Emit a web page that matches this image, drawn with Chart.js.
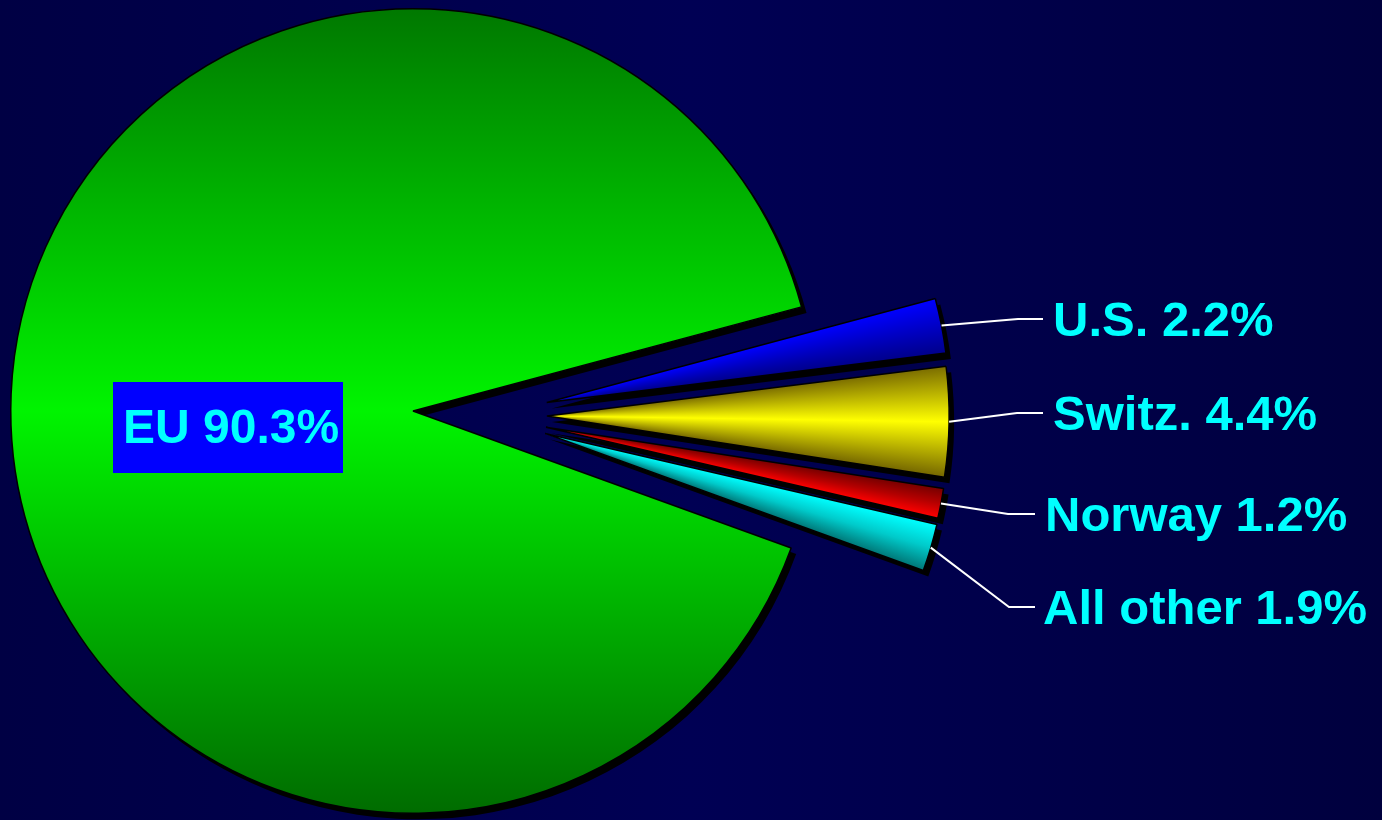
<!DOCTYPE html>
<html>
<head>
<meta charset="utf-8">
<script src="https://cdn.jsdelivr.net/npm/chart.js@4.4.1/dist/chart.umd.min.js"></script>
<style>
html, body { margin: 0; padding: 0; width: 1382px; height: 820px; overflow: hidden;
  background: linear-gradient(to right, #000044 0%, #000054 50%, #00003e 100%); }
#wrap { position: relative; width: 1382px; height: 820px; }
</style>
</head>
<body>
<div id="wrap"><canvas id="c"></canvas></div>
<script>
// ---- data ----
const categories = ['U.S.', 'Switz.', 'Norway', 'All other', 'EU'];
const shares = [2.2, 4.4, 1.2, 1.9, 90.3];
const euIndex = 4;

// ---- styling ----
const sliceStops = [
  ['#0000ff', '#0000c4', '#00008a'],   // U.S.  (top edge -> bottom edge)
  ['#7c6e00', '#ffff00', '#766800'],   // Switz.
  ['#760000', '#b40000', '#ff0000'],   // Norway
  ['#00ffff', '#00caca', '#007878']    // All other
];
const euStops = ['#007800', '#00f400', '#006c00'];
const explodeDistance = 134;
const labelFont = 'bold 49px "Liberation Sans", Arial, sans-serif';
const euFont = 'bold 48px "Liberation Sans", Arial, sans-serif';
const labelColor = '#00ffff';
// leader elbow x, leader end x, leader y, text x
const labelLayout = [
  { elbowX: 1018, endX: 1043, y: 319, textX: 1053 },
  { elbowX: 1017, endX: 1043, y: 413, textX: 1053 },
  { elbowX: 1008, endX: 1035, y: 514, textX: 1045 },
  { elbowX: 1009, endX: 1035, y: 607, textX: 1043 }
];
const euBox = { x: 113, y: 382, w: 230, h: 91, textX: 123, baseline: 443 };

const labelText = i => categories[i] + ' ' + shares[i].toFixed(1) + '%';

const piePlugin = {
  id: 'pieStyle',
  afterDatasetsUpdate(chart) {
    const meta = chart.getDatasetMeta(0);
    meta.data.forEach((arc, i) => {
      if (i === euIndex) return;
      const mid = (arc.startAngle + arc.endAngle) / 2;
      const dir = 0.0297 + 0.48 * mid;
      arc.x += explodeDistance * Math.cos(dir);
      arc.y += explodeDistance * Math.sin(dir);
    });
  },
  beforeDatasetsDraw(chart) {
    const ctx = chart.ctx;
    const meta = chart.getDatasetMeta(0);
    meta.data.forEach((arc, i) => {
      let g;
      if (i === euIndex) {
        g = ctx.createLinearGradient(0, arc.y - arc.outerRadius, 0, arc.y + arc.outerRadius);
        g.addColorStop(0, euStops[0]);
        g.addColorStop(0.5, euStops[1]);
        g.addColorStop(1, euStops[2]);
      } else {
        g = ctx.createConicGradient(arc.startAngle, arc.x, arc.y);
        const f = (arc.endAngle - arc.startAngle) / (2 * Math.PI);
        const s = sliceStops[i];
        g.addColorStop(0, s[0]);
        g.addColorStop(f / 2, s[1]);
        g.addColorStop(f, s[2]);
        g.addColorStop(Math.min(1, f + 0.001), s[2]);
        g.addColorStop(1, s[0]);
      }
      arc.options = Object.assign({}, arc.options, { backgroundColor: g });
    });
  },
  beforeDatasetDraw(chart) {
    // shadow pass: fills only, offset black shadow
    const ctx = chart.ctx;
    const meta = chart.getDatasetMeta(0);
    ctx.save();
    ctx.shadowColor = '#000000';
    ctx.shadowOffsetX = 5;
    ctx.shadowOffsetY = 6;
    ctx.shadowBlur = 0;
    meta.data.forEach(arc => {
      const o = arc.options;
      arc.options = Object.assign({}, o, { borderWidth: 0 });
      arc.draw(ctx, chart.chartArea);
      arc.options = o;
    });
    ctx.restore();
  },
  afterDraw(chart) {
    const ctx = chart.ctx;
    const meta = chart.getDatasetMeta(0);
    ctx.save();
    ctx.font = labelFont;
    ctx.textBaseline = 'alphabetic';
    ctx.textAlign = 'left';
    meta.data.forEach((arc, i) => {
      if (i === euIndex) return;
      const L = labelLayout[i];
      const mid = (arc.startAngle + arc.endAngle) / 2;
      const sx = arc.x + arc.outerRadius * Math.cos(mid);
      const sy = arc.y + arc.outerRadius * Math.sin(mid);
      ctx.strokeStyle = '#ffffff';
      ctx.lineWidth = 2;
      ctx.beginPath();
      ctx.moveTo(sx, sy);
      ctx.lineTo(L.elbowX, L.y);
      ctx.lineTo(L.endX, L.y);
      ctx.stroke();
      ctx.fillStyle = labelColor;
      ctx.fillText(labelText(i), L.textX, L.y + 17);
    });
    ctx.fillStyle = '#0000ff';
    ctx.fillRect(euBox.x, euBox.y, euBox.w, euBox.h);
    ctx.font = euFont;
    ctx.fillStyle = labelColor;
    ctx.fillText(labelText(euIndex), euBox.textX, euBox.baseline);
    ctx.restore();
  }
};

new Chart(document.getElementById('c'), {
  type: 'pie',
  data: {
    labels: categories,
    datasets: [{
      data: shares,
      backgroundColor: ctx => '#00ff00',
      borderColor: '#000000',
      borderWidth: 1.5
    }]
  },
  options: {
    responsive: true,
    maintainAspectRatio: false,
    animation: false,
    events: [],
    rotation: 75,
    layout: { padding: { left: 10, top: 8, right: 566, bottom: 6 } },
    plugins: { legend: { display: false }, tooltip: { enabled: false } }
  },
  plugins: [piePlugin]
});
</script>
</body>
</html>
